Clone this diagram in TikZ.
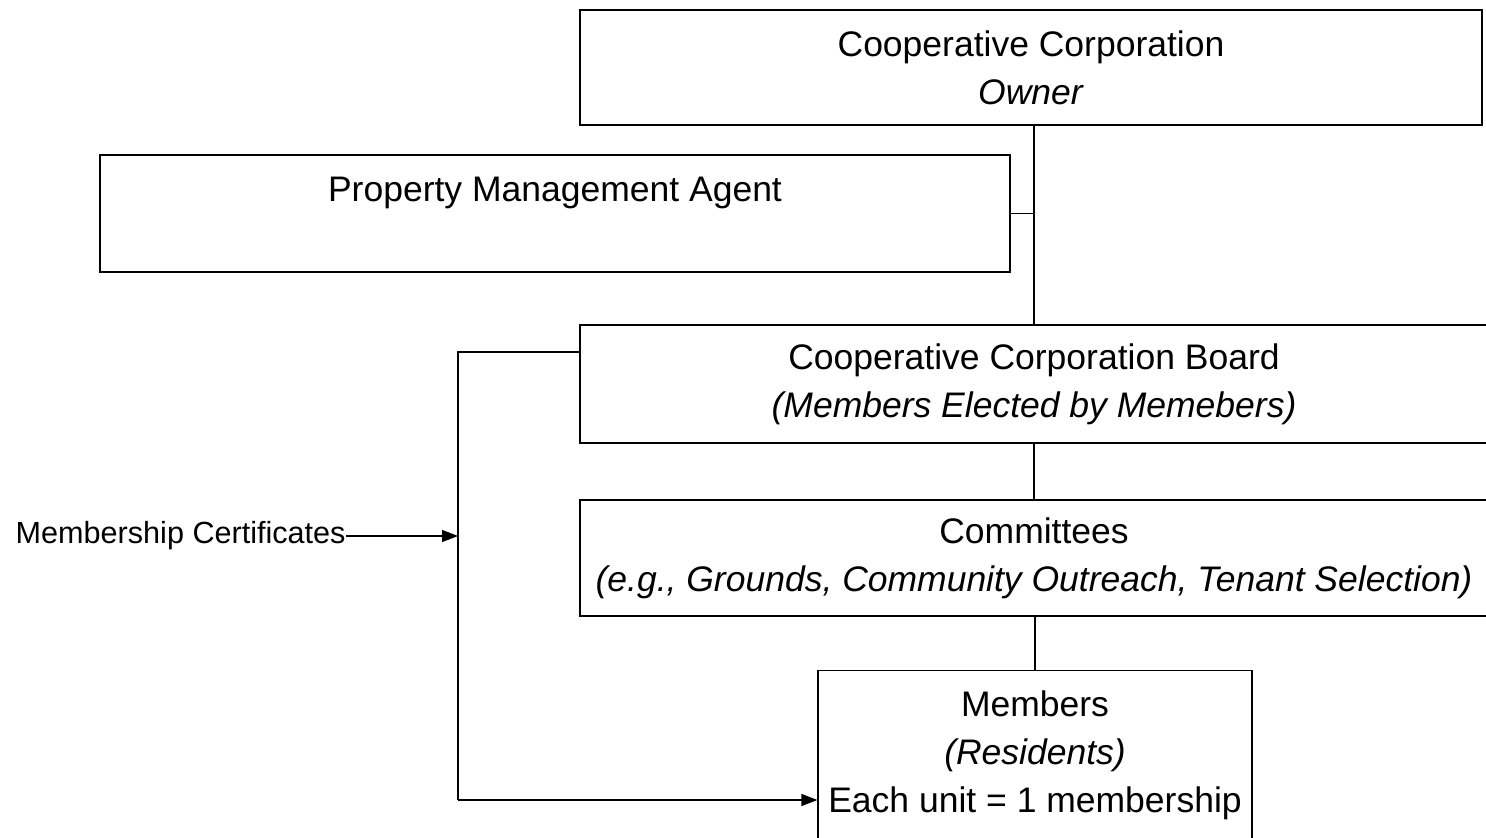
\documentclass[tikz,border=0pt]{standalone}
\usepackage{fontspec}
\setmainfont{Liberation Sans}
\usetikzlibrary{arrows.meta}

\tikzset{
  orgbox/.style={draw, line width=0.6pt, rectangle, inner sep=0pt, align=center,
    font=\fontsize{17.75}{24}\selectfont},
  link/.style={line width=0.6pt},
  tip/.style={-{Triangle[length=8pt,width=6pt]}},
}

\begin{document}
\begin{tikzpicture}[x=0.5pt, y=-0.5pt]
    \useasboundingbox (0,0) rectangle (1486,838);
    \clip (0,0) rectangle (1486,838);
    % boxes of the chart
    \node[orgbox, minimum width=451pt, minimum height=57.5pt] (owner) at (1031,67.5)
        {Cooperative Corporation\\ \textit{Owner}};
    \node[orgbox, minimum width=455pt, minimum height=58.5pt] (agent) at (555,213.5)
        {Property Management Agent\\ ~};
    \node[orgbox, minimum width=454pt, minimum height=59pt] (board) at (1034,384)
        {Cooperative Corporation Board\\ \textit{(Members Elected by Memebers)}};
    \node[orgbox, minimum width=454pt, minimum height=58pt] (committees) at (1034,558)
        {Committees\\ \textit{(e.g., Grounds, Community Outreach, Tenant Selection)}};
    \node[orgbox, anchor=north, minimum width=217pt, minimum height=85pt] (members) at (1035,670)
        {Members\\ \textit{(Residents)}\\ Each unit = 1 membership};
    \node[anchor=east, inner sep=0pt, font=\fontsize{15.3}{18}\selectfont] (cert) at (346,536)
        {Membership Certificates};
    \coordinate (split) at (458,352);
    \coordinate (unit) at (458,800);
    % connectors
    \draw[link] (board.north |- owner.south) -- (board.north);
    \draw[link] (agent.east) -- (agent.east -| board.north);
    \draw[link] (board.south) -- (committees.north);
    \draw[link] (members.north |- committees.south) -- (members.north);
    \draw[link] (split -| board.west) -- (split) -- (unit);
    \draw[link, tip] (unit) -- (unit -| members.west);
    \draw[link, tip] (cert.east) -- (cert.east -| split);
\end{tikzpicture}
\end{document}
